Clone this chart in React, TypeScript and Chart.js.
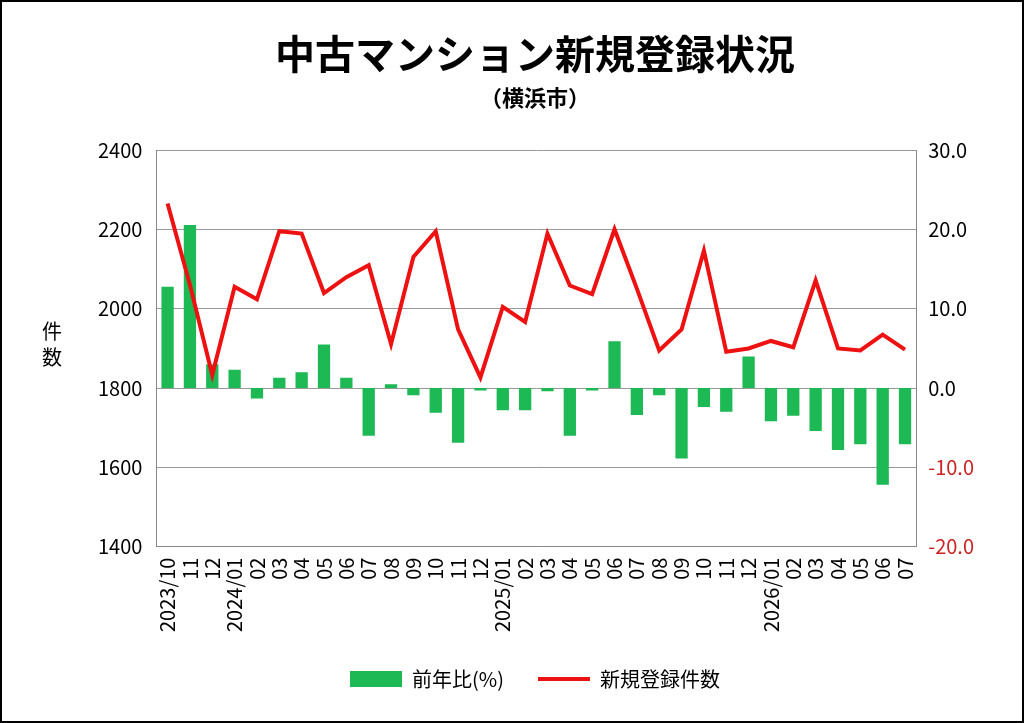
import React, { useEffect, useRef } from "react";
import { Chart, registerables } from "chart.js";
Chart.register(...registerables);

const labels = ["2023/10","11","12","2024/01","02","03","04","05","06","07","08","09","10","11","12","2025/01","02","03","04","05","06","07","08","09","10","11","12","2026/01","02","03","04","05","06","07"];
const counts = [2266,2061,1833,2056,2024,2196,2190,2040,2080,2110,1911,2131,2196,1948,1827,2005,1967,2190,2059,2037,2201,2051,1895,1948,2147,1892,1900,1919,1903,2072,1900,1895,1935,1897];
const yoy = [12.8,20.6,3.0,2.3,-1.3,1.3,2.0,5.5,1.3,-6.0,0.5,-0.9,-3.1,-6.9,-0.3,-2.8,-2.8,-0.4,-6.0,-0.3,5.9,-3.4,-0.9,-8.9,-2.4,-3.0,4.0,-4.2,-3.5,-5.4,-7.8,-7.1,-12.2,-7.1];

const font = "'Noto Sans CJK JP', 'Noto Sans', sans-serif";

export default function App() {
  const ref = useRef<HTMLCanvasElement>(null);
  useEffect(() => {
    document.body.style.margin = "0";
    const chart = new Chart(ref.current!, {
      data: {
        labels,
        datasets: [
          { type: "bar", label: "前年比(%)", data: yoy, backgroundColor: "#1DB954", yAxisID: "y1", order: 2, barPercentage: 0.55, categoryPercentage: 1 },
          { type: "line", label: "新規登録件数", data: counts, borderColor: "#EE1111", backgroundColor: "#EE1111", borderWidth: 4, pointRadius: 0, tension: 0, yAxisID: "y", order: 1 },
        ],
      },
      options: {
        animation: false,
        responsive: false,
        layout: { padding: { left: 82, right: 36, top: 0, bottom: 22 } },
        plugins: {
          title: { display: true, text: "中古マンション新規登録状況", color: "#000", font: { family: font, size: 40, weight: "bold" }, padding: { top: 28, bottom: 6 } },
          subtitle: { display: true, text: "（横浜市）", color: "#000", font: { family: font, size: 22, weight: "bold" }, padding: { bottom: 40 } },
          legend: {
            position: "bottom",
            labels: {
              color: "#000", font: { family: font, size: 20 }, boxHeight: 16, padding: 34,
              usePointStyle: true, pointStyleWidth: 52,
              generateLabels: (c: any) => c.data.datasets.map((d: any, i: number) => ({
                text: d.label, fillStyle: d.backgroundColor, strokeStyle: d.backgroundColor,
                lineWidth: d.type === "line" ? 4 : 0, pointStyle: d.type === "line" ? "line" : "rect", datasetIndex: i, fontColor: "#000",
              })),
            },
          },
          tooltip: { enabled: false },
        },
        scales: {
          x: {
            grid: { display: false },
            border: { color: "#888" },
            ticks: { color: "#000", font: { family: font, size: 20 }, minRotation: 90, maxRotation: 90, autoSkip: false },
          },
          y: {
            position: "left", min: 1400, max: 2400,
            ticks: { stepSize: 200, color: "#000", font: { family: font, size: 20 }, padding: 14, callback: (v: any) => String(v) },
            grid: { color: "#999", drawTicks: false },
            border: { color: "#888" },
          },
          y1: {
            position: "right", min: -20, max: 30,
            ticks: { stepSize: 10, color: (ctx: any) => (ctx.tick && ctx.tick.value < 0 ? "#CC2222" : "#000"), font: { family: font, size: 20 }, callback: (v: any) => Number(v).toFixed(1), padding: 12 },
            grid: { display: false, drawTicks: false },
            border: { color: "#888" },
          },
        },
      } as any,
    });
    return () => chart.destroy();
  }, []);
  return (
    <div style={{ position: "relative", width: 1024, height: 723, border: "2px solid #000", boxSizing: "border-box", background: "#fff", overflow: "hidden" }}>
      <canvas ref={ref} width={1020} height={719} style={{ display: "block" }} />
      <div style={{ position: "absolute", left: 38, top: 316, fontFamily: font, fontSize: 20, lineHeight: "26px", color: "#000", width: 24, textAlign: "center" }}>件<br />数</div>
    </div>
  );
}
